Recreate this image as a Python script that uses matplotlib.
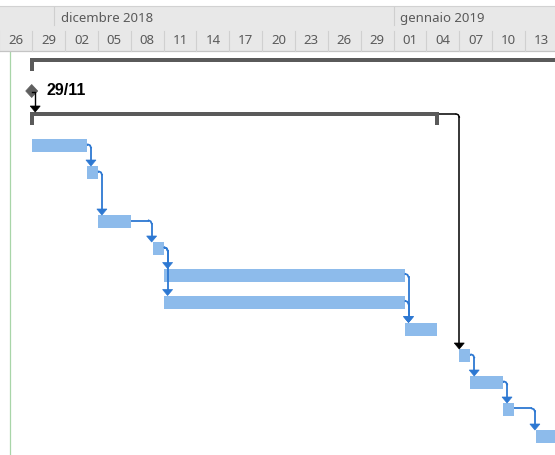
import matplotlib
matplotlib.use("Agg")
import matplotlib.pyplot as plt
import pandas as pd
from matplotlib.patches import Rectangle, Polygon

# ---------------- data ----------------
origin = pd.Timestamp("2018-11-29")
status_date = "2018-11-27"

day_ticks = ["2018-11-26", "2018-11-29", "2018-12-02", "2018-12-05", "2018-12-08",
             "2018-12-11", "2018-12-14", "2018-12-17", "2018-12-20", "2018-12-23",
             "2018-12-26", "2018-12-29", "2019-01-01", "2019-01-04", "2019-01-07",
             "2019-01-10", "2019-01-13"]
day_labels = ["26", "29", "02", "05", "08", "11", "14", "17", "20", "23", "26", "29",
              "01", "04", "07", "10", "13"]
month_starts = ["2018-12-01", "2019-01-01"]
month_labels = ["dicembre 2018", "gennaio 2019"]

# summary bars
summary_start = ["2018-11-29", "2018-11-29"]
summary_end = ["2019-01-20", "2019-01-05"]
summary_row = [61, 115]

milestone_date = "2018-11-29"
milestone_label = "29/11"
milestone_row = 92

task_start = ["2018-11-29", "2018-12-04", "2018-12-05", "2018-12-10", "2018-12-11",
              "2018-12-11", "2019-01-02", "2019-01-07", "2019-01-08", "2019-01-11",
              "2019-01-14"]
task_days = [5, 1, 3, 1, 22, 22, 3, 1, 3, 1, 3]
task_row = [146.5, 173.5, 222.5, 249.5, 276, 303, 330, 356.5, 383.5, 410.5, 437.5]
links = [(0, 1), (1, 2), (2, 3), (3, 4), (3, 5), (4, 6), (5, 6), (7, 8), (8, 9), (9, 10)]

# ---------------- geometry ----------------
W, H = 555, 456
PXD = 10.95        # pixels per day
X0 = 32.2          # pixel of origin

def d(s):
    return (pd.Timestamp(s) - origin).days

def px(n):
    return n / PXD

fig = plt.figure(figsize=(W / 100, H / 100), dpi=100)
ax = fig.add_axes([0, 0, 1, 1])
ax.set_xlim(-X0 / PXD, (W - X0) / PXD)
ax.set_ylim(H, 0)
ax.axis("off")

hdr_font = ["Noto Sans", "DejaVu Sans"]

# header
ax.add_patch(Rectangle((ax.get_xlim()[0], 7), 200, 45, facecolor="#E8E8E8",
                       edgecolor="none", zorder=1))
ax.plot([ax.get_xlim()[0], ax.get_xlim()[1]], [7.3, 7.3], color="#D2D2D2", lw=0.8, zorder=2)
ax.plot([ax.get_xlim()[0], ax.get_xlim()[1]], [52, 52], color="#C4C4C4", lw=0.9, zorder=2)

for t, lab in zip(day_ticks, day_labels):
    x = d(t)
    ax.text(x + 1.5, 40, lab, ha="center", va="center", fontsize=9.5,
            color="#5A5A5A", family=hdr_font, zorder=3)
    ax.plot([x, x], [32, 52], color="#D0D0D0", lw=0.8, zorder=2)

for t, lab in zip(month_starts, month_labels):
    x = d(t)
    ax.plot([x, x], [7.5, 26], color="#CFCFCF", lw=0.8, zorder=2)
    ax.text(x + px(6.5), 18.5, lab, ha="left", va="center", fontsize=9.5,
            color="#5A5A5A", family=hdr_font, zorder=3)

# status line
ax.plot([d(status_date)] * 2, [52.5, H], color="#A8D5A8", lw=0.9, zorder=1)

# summary bars
sum_col = "#5A5A5A"
for s, e, r in zip(summary_start, summary_end, summary_row):
    xs, xe = d(s), d(e)
    ax.add_patch(Rectangle((xs - px(2), r - 1.6), xe - xs + px(4), 3.2,
                           facecolor=sum_col, edgecolor="none", zorder=4))
    ax.add_patch(Rectangle((xs - px(2), r - 1.6), px(4), 12.8,
                           facecolor=sum_col, edgecolor="none", zorder=4))
    ax.add_patch(Rectangle((xe - px(2), r - 1.6), px(4), 12.8,
                           facecolor=sum_col, edgecolor="none", zorder=4))

# milestone
mx = d(milestone_date) - px(0.5)
ax.add_patch(Polygon([(mx - px(6), milestone_row), (mx, milestone_row - 6.5),
                      (mx + px(6), milestone_row), (mx, milestone_row + 6.5)],
                     closed=True, facecolor="#5F5F5F", edgecolor="#5F5F5F", lw=0.5, zorder=5))
ax.text(mx + px(14.3), milestone_row - 1.5, milestone_label, ha="left", va="center",
        fontsize=11.5, fontweight="bold", color="black",
        family=["Liberation Sans", "DejaVu Sans"], zorder=5)

def arrow_head(x, ytip, color):
    ax.add_patch(Polygon([(x - px(5), ytip - 6), (x + px(5), ytip - 6), (x, ytip)],
                         closed=True, facecolor=color, edgecolor=color, lw=0.5, zorder=6))

# milestone -> summary 2
ax_x = mx + px(3.5)
ax.plot([mx, ax_x, ax_x], [milestone_row + 1, milestone_row + 1, summary_row[1] - 7],
        color="black", lw=1.0, zorder=5)
arrow_head(ax_x, summary_row[1] - 2, "black")

# tasks
bar_col = "#8DBBEB"
starts = [d(s) for s in task_start]
ends = [s + n for s, n in zip(starts, task_days)]
ax.barh(task_row, task_days, left=starts, height=13, color=bar_col,
        edgecolor="none", zorder=4)

# links
link_col = "#2D78D2"

def connector(x_from, y_from, x_arrow, y_tip, color, lw):
    r = 3
    ax.plot([x_from, x_arrow - px(r)], [y_from, y_from], color=color, lw=lw, zorder=5,
            solid_capstyle="butt")
    ax.plot([x_arrow - px(r), x_arrow - px(1), x_arrow], [y_from, y_from + 0.8, y_from + r],
            color=color, lw=lw, zorder=5)
    ax.plot([x_arrow, x_arrow], [y_from + r, y_tip - 5], color=color, lw=lw, zorder=5)
    arrow_head(x_arrow, y_tip, color)

for p, s in links:
    xa = max(starts[s] - px(1), ends[p] + px(4))
    connector(ends[p], task_row[p] - 1, xa, task_row[s] - 6.5, link_col, 1.3)

# summary 2 -> task 8
connector(d(summary_end[1]) + px(2), summary_row[1], starts[7], task_row[7] - 6.5,
          "black", 1.1)

fig.savefig("out.png", dpi=100, facecolor="white")
